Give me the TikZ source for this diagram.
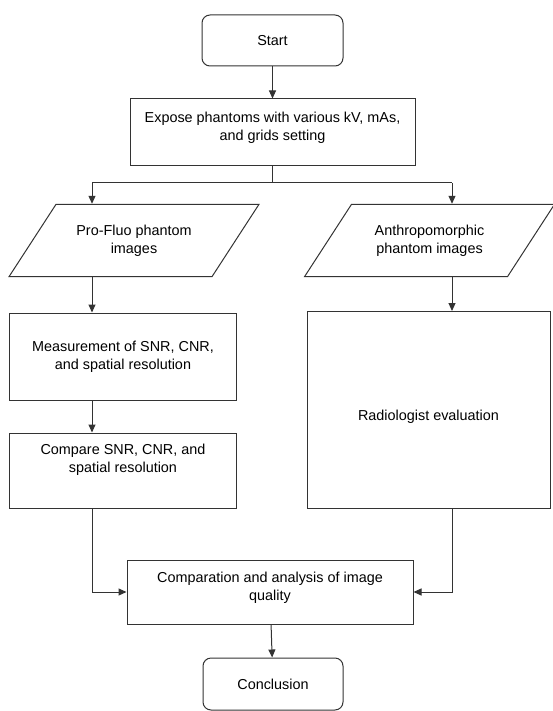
\documentclass[tikz,border=0pt]{standalone}
\usepackage{fontspec}
\setmainfont{Liberation Sans}
\usetikzlibrary{positioning,shapes,arrows.meta}
\tikzset{
flow/.style={draw=black!80, line width=1pt, align=center, inner sep=2pt, font=\fontsize{14.4}{18}\selectfont},
terminal/.style={flow, rectangle, rounded corners=8pt, minimum width=141pt, minimum height=51pt},
process/.style={flow, rectangle},
inout/.style={flow, trapezium, trapezium left angle=57, trapezium right angle=123, trapezium stretches body, inner ysep=20.5pt, minimum width=250pt},
wire/.style={draw=black!80, line width=1pt},
link/.style={wire, -{Triangle[length=8pt,width=7pt]}}
}

\begin{document}
\begin{tikzpicture}[x=1pt, y=-1pt]
\useasboundingbox (0,0) rectangle (552,711);
\node[terminal] (start) at (272.5,40.5) {Start};
\node[process, minimum width=285pt, minimum height=67pt, text depth=12pt] (expose) at (272.5,132.5) {Expose phantoms with various kV, mAs,\\and grids setting};
\node[inout] (pf) at (134,240.5) {Pro-Fluo phantom\\images};
\node[inout] (ap) at (429.5,240.5) {Anthropomorphic\\phantom images};
\node[process, minimum width=227.5pt, minimum height=87pt] (meas) at (123,356.5) {Measurement of SNR, CNR,\\and spatial resolution};
\node[process, minimum width=227.5pt, minimum height=75pt, text depth=25pt] (cmp) at (123,470.5) {Compare SNR, CNR, and\\spatial resolution};
\node[process, minimum width=243pt, minimum height=196.5pt, text height=24pt] (rad) at (428.5,409.75) {Radiologist evaluation};
\node[process, minimum width=286pt, minimum height=64pt, text depth=12pt] (anal) at (270,592) {Comparation and analysis of image\\quality};
\node[terminal, minimum width=140pt, minimum height=52pt] (concl) at (273,684) {Conclusion};
\coordinate (split) at (272.5,183);
\coordinate (lb) at (92,183);
\coordinate (rb) at (452,183);

\draw[link] (start) -- (expose);
\draw[wire] (expose) -- (split);
\draw[wire] (lb) -- (rb);
\draw[link] (lb) -- (lb |- pf.north);
\draw[link] (rb) -- (rb |- ap.north);
\foreach \a/\b in {pf/meas, meas/cmp}
  \draw[link] (lb |- \a.south) -- (lb |- \b.north);
\draw[link] (rb |- ap.south) -- (rb |- rad.north);
\draw[link] (lb |- cmp.south) |- (anal.west);
\draw[link] (rb |- rad.south) |- (anal.east);
\draw[link] (anal) -- (concl);
\end{tikzpicture}
\end{document}
